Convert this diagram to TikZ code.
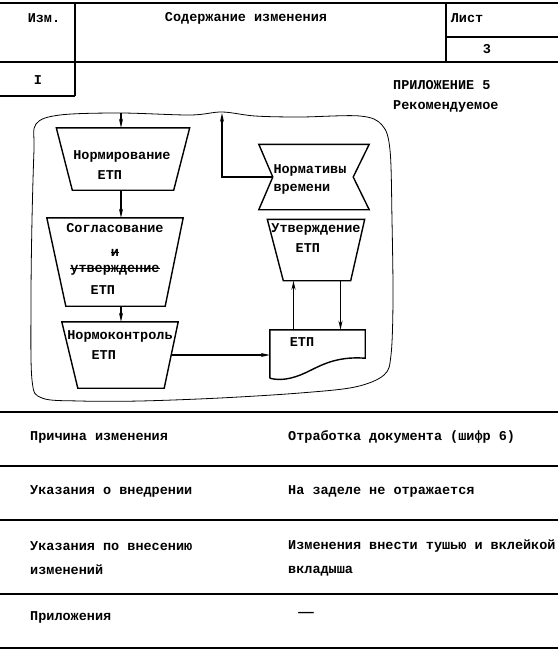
\documentclass[tikz,border=0pt]{standalone}
\usepackage{fontspec}
\setmainfont{Liberation Mono}
\newcommand{\zacherk}[1]{\setbox0\hbox{#1}\rlap{\rule[0.27em]{\wd0}{1.1pt}}\box0}
\usetikzlibrary{arrows.meta,positioning}

\begin{document}
\begin{tikzpicture}[
        x=1pt, y=-1pt,
        >={Stealth[length=9pt,width=4pt]},
        every node/.style={font=\bfseries\fontsize{13.5}{20}\selectfont, inner sep=0pt},
        lineika/.style={line width=2.4pt},
        blok/.style={rectangle, inner sep=0pt},
        kontur/.style={line width=1.4pt},
        tekst/.style={align=center},
        strelka/.style={->, line width=1.4pt}
    ]
    \useasboundingbox (0,0) rectangle (558,651);

        % ==================================================
        % SHAPKA
        % ==================================================

        \draw[lineika] (0,3) -- (558,3);
        \draw[lineika] (0,62) -- (558,62);
        \draw[lineika] (75,3) -- (75,96);
        \draw[lineika] (0,96) -- (75,96);
        \draw[lineika] (446,3) -- (446,62);
        \draw[lineika] (446,37) -- (558,37);

        \node (izm)    at (44,18)  {Изм.};
        \node (soder)  at (246,18) {Содержание изменения};
        \node (list)   at (467,18) {Лист};
        \node (nomer)  at (487,49) {3};
        \node (izmnom) at (38,80)  {I};

        \node[align=left, anchor=west] (pril) at (393,96) {ПРИЛОЖЕНИЕ 5\\Рекомендуемое};

        % ==================================================
        % SKHEMA
        % ==================================================

        % Kontur
        \draw[line width=0.8pt] plot[smooth cycle, tension=0.55] coordinates {
            (36,124) (60,115) (120,113) (190,115) (222,112) (255,116)
            (300,117) (360,116) (382,125) (390,150) (392,220) (393,300)
            (391,355) (384,375) (355,387) (300,393) (220,398) (140,401)
            (80,401) (42,398) (32,380) (31,300) (32,220) (34,150)};

        % Bloki
        \node[blok, minimum width=133pt, minimum height=62pt] (norm1) at (123,159) {};
        \node[blok, minimum width=136pt, minimum height=88pt] (norm2) at (115,262) {};
        \node[blok, minimum width=116pt, minimum height=66pt] (norm3) at (120,355) {};
        \node[blok, minimum width=97pt,  minimum height=61pt] (utv)   at (316,250) {};

        \draw[kontur] (norm1.north west) -- (norm1.north east) -- ([xshift=-16pt]norm1.south east) -- ([xshift=16pt]norm1.south west) -- cycle;
        \draw[kontur] (norm2.north west) -- (norm2.north east) -- ([xshift=-18pt]norm2.south east) -- ([xshift=19pt]norm2.south west) -- cycle;
        \draw[kontur] (norm3.north west) -- (norm3.north east) -- ([xshift=-14pt]norm3.south east) -- ([xshift=16pt]norm3.south west) -- cycle;
        \draw[kontur] (utv.north west) -- (utv.north east) -- ([xshift=-14pt]utv.south east) -- ([xshift=16pt]utv.south west) -- cycle;

        \node[tekst] (norm1t) at (122,165) {Нормирование\\ЕТП\phantom{ЕТП}};
        \node[tekst] (norm2t) at (115,259) {Согласование\\[4pt]\zacherk{и}\\[-4pt]\zacherk{утверждение}\\[2pt]ЕТП\phantom{ЕТП}};
        \node[tekst] (norm3t) at (120,345) {Нормоконтроль\\ЕТП\phantom{ЕТПЕ}};
        \node[tekst] (utvt)   at (316,238) {Утверждение\\ЕТП\phantom{ЕТ}};

        % Normativy vremeni
        \node[blok, minimum width=110pt, minimum height=65pt] (normy) at (314,177) {};
        \draw[kontur] (normy.north west) -- (normy.north east) -- ([xshift=-16pt]normy.east)
            -- (normy.south east) -- (normy.south west) -- ([xshift=14pt]normy.west) -- cycle;
        \node[align=left] (normyt) at (310,179) {Нормативы\\[-2pt]времени};

        % ETP (dokument)
        \node[blok, minimum width=95pt, minimum height=48pt] (doc) at (317.5,354) {};
        \draw[kontur] (doc.south west) -- (doc.north west) -- (doc.north east)
            -- ([yshift=20pt]doc.south east) .. controls (335,356) and (320,366) .. (305,373)
            .. controls (292,379) and (280,381) .. (doc.south west);
        \node (doct) at (302,342) {ЕТП};

        % Strelki
        \coordinate (vhod)  at (121,113);
        \coordinate (vyhod) at (222,113);
        \draw[strelka] (vhod) -- (vhod |- norm1.north);
        \draw[strelka] (vhod |- norm1.south) -- (vhod |- norm2.north);
        \draw[strelka] (vhod |- norm2.south) -- (vhod |- norm3.north);
        \draw[strelka] ([xshift=-7pt]norm3.east) -- (norm3.east -| doc.west);
        \draw[strelka] ([xshift=-24pt]doc.north) -- ([xshift=-24pt]doc.north |- utv.south);
        \draw[strelka] ([xshift=23pt]doc.north |- utv.south) -- ([xshift=23pt]doc.north);
        \draw[strelka] ([xshift=14pt]normy.west) -| (vyhod);

        % ==================================================
        % TABLITSA
        % ==================================================

        \foreach \y in {412,466,520,594,648}
            \draw[lineika] (0,\y) -- (558,\y);

        \node[anchor=west] (prichina) at (30,437) {Причина изменения};
        \node[anchor=west] (otrab)    at (288,437) {Отработка документа (шифр 6)};
        \node[anchor=west] (ukaz)     at (30,491) {Указания о внедрении};
        \node[anchor=west] (zadel)    at (288,491) {На заделе не отражается};
        \node[anchor=west, align=left] (vnes)  at (30,558)  {Указания по внесению\\[4pt]изменений};
        \node[anchor=west, align=left] (tush)  at (288,558) {Изменения внести тушью и вклейкой\\[4pt]вкладыша};
        \node[anchor=west] (prilozh)  at (30,617) {Приложения};
        \node (tire) at (306,614) {\scalebox{1.9}[1]{—}};
    \end{tikzpicture}
\end{document}
